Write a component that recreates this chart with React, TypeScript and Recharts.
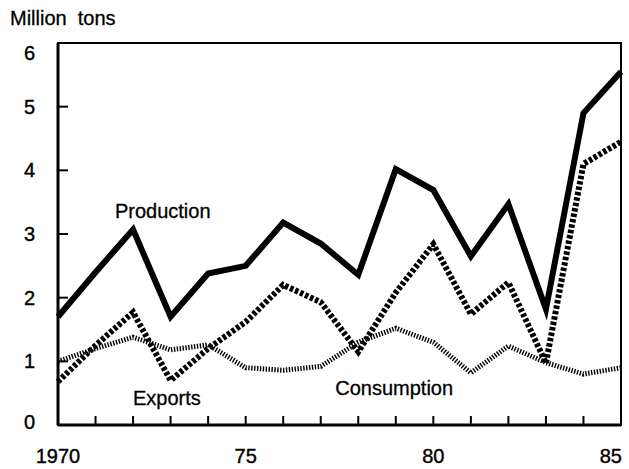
import React from 'react';
import { LineChart, Line, XAxis, YAxis, ReferenceArea, ReferenceDot } from 'recharts';

const years = [1970, 1971, 1972, 1973, 1974, 1975, 1976, 1977, 1978, 1979, 1980, 1981, 1982, 1983, 1984, 1985];
const production = [1.7, 2.4, 3.07, 1.7, 2.38, 2.5, 3.18, 2.85, 2.36, 4.02, 3.69, 2.65, 3.47, 1.82, 4.9, 5.55];
const exportsSeries = [0.68, 1.25, 1.77, 0.7, 1.2, 1.62, 2.2, 1.93, 1.15, 2.08, 2.84, 1.74, 2.24, 0.97, 4.1, 4.45];
const consumption = [1.0, 1.2, 1.38, 1.18, 1.26, 0.9, 0.86, 0.92, 1.3, 1.52, 1.3, 0.82, 1.24, 0.98, 0.8, 0.9];

const yTicks = [0, 1, 2, 3, 4, 5, 6];
const xTickLabels: Record<number, string> = { 1970: '1970', 1975: '75', 1980: '80', 1985: '85' };

const seriesLabels = [
  { name: 'Production', x: 1971.52, y: 3.25 },
  { name: 'Exports', x: 1972.0, y: 0.31 },
  { name: 'Consumption', x: 1977.39, y: 0.47 },
];

const data = years.map((year, i) => ({
  year,
  production: production[i],
  exports: exportsSeries[i],
  consumption: consumption[i],
}));

const FONT = '"Liberation Sans", Arial, Helvetica, sans-serif';
const FS = 20;

const XTick = (props: any) => {
  const { x, y, payload } = props;
  const label = xTickLabels[payload.value];
  if (!label) return null;
  const last = payload.value === years[years.length - 1];
  return (
    <text
      x={last ? x + 1 : x}
      y={y + 38}
      textAnchor={last ? 'end' : 'middle'}
      fontFamily={FONT}
      fontSize={FS}
      fill="#000"
      stroke="#000"
      strokeWidth={0.4}
    >
      {label}
    </text>
  );
};

const YTick = (props: any) => {
  const { x, y, payload } = props;
  let shift = 0;
  if (payload.value === 6) shift = 10;
  if (payload.value === 0) shift = -3;
  return (
    <text
      x={x - 23}
      y={y + 7 + shift}
      textAnchor="end"
      fontFamily={FONT}
      fontSize={FS}
      fill="#000"
      stroke="#000"
      strokeWidth={0.4}
    >
      {payload.value}
    </text>
  );
};

const SeriesLabel = (name: string) => (props: any) => {
  const { viewBox } = props;
  return (
    <text
      x={viewBox.x}
      y={viewBox.y}
      fontFamily={FONT}
      fontSize={FS}
      fill="#000"
      stroke="#000"
      strokeWidth={0.3}
    >
      {name}
    </text>
  );
};

export default function App() {
  return (
    <div style={{ position: 'absolute', left: 0, top: 0, width: 629, height: 469, background: '#fff' }}>
      <div
        style={{
          position: 'absolute',
          left: 10,
          top: 8,
          fontFamily: FONT,
          fontSize: FS,
          lineHeight: '20px',
          whiteSpace: 'pre',
          color: '#000',
          WebkitTextStroke: '0.3px #000',
        }}
      >
        {'Million  tons'}
      </div>
      <LineChart width={629} height={469} data={data} margin={{ top: 43, right: 8, bottom: 0, left: 0 }}>
        <ReferenceArea x1={1970} x2={1985} y1={0} y2={6} fill="none" stroke="#000" strokeWidth={2} ifOverflow="visible" />
        <XAxis
          dataKey="year"
          type="number"
          domain={[1970, 1985]}
          ticks={years}
          interval={0}
          height={44}
          axisLine={{ stroke: '#000', strokeWidth: 3 }}
          tickLine={{ stroke: '#000', strokeWidth: 2 }}
          tickSize={-9}
          tickMargin={9}
          tick={<XTick />}
        />
        <YAxis
          type="number"
          domain={[0, 6]}
          ticks={yTicks}
          interval={0}
          width={58}
          axisLine={{ stroke: '#000', strokeWidth: 3 }}
          tickLine={{ stroke: '#000', strokeWidth: 2 }}
          tickSize={-10}
          tickMargin={10}
          tick={<YTick />}
        />
        <Line
          dataKey="consumption"
          type="linear"
          stroke="#000"
          strokeWidth={5}
          strokeDasharray="1.4 1.5"
          dot={false}
          isAnimationActive={false}
        />
        <Line
          dataKey="exports"
          type="linear"
          stroke="#000"
          strokeWidth={6}
          strokeDasharray="3.5 2"
          dot={false}
          isAnimationActive={false}
        />
        <Line
          dataKey="production"
          type="linear"
          stroke="#000"
          strokeWidth={6}
          strokeLinejoin="miter"
          dot={false}
          isAnimationActive={false}
        />
        {seriesLabels.map((s) => (
          <ReferenceDot
            key={s.name}
            x={s.x}
            y={s.y}
            r={0.1}
            fill="none"
            stroke="none"
            ifOverflow="visible"
            label={SeriesLabel(s.name)}
          />
        ))}
      </LineChart>
    </div>
  );
}
